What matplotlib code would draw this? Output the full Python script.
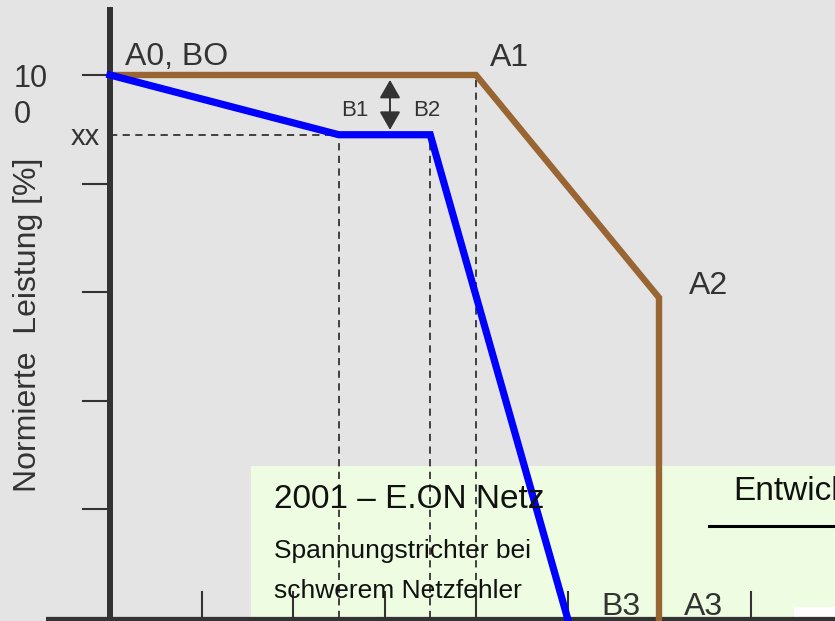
import matplotlib.pyplot as plt
from matplotlib.patches import Rectangle

plt.rcParams['font.family'] = ['Liberation Sans', 'DejaVu Sans']

# curve A (brown) and curve B (blue): x in time steps, y in percent of rated power
a_names = ['A1', 'A2', 'A3']
a_x = [0, 4, 6, 6]
a_y = [100, 100, 59, 0]
b_names = ['B1', 'B2', 'B3']
b_x = [0, 2.5, 3.5, 5]
b_y = [100, 89, 89, 0]
x_ticks = [1, 2, 3, 4, 5, 6, 7]
y_ticks = [20, 40, 60, 80, 100]

W, H = 835, 621
X0, Y0 = 110, 618        # pixel position of the origin
SX, SY = 91.5, 5.43      # pixels per x unit / per percent

bg = '#e4e4e4'
dark = '#333333'
brown = '#996633'
blue = '#0000ff'

fig = plt.figure(figsize=(W / 100, H / 100), dpi=100)
fig.patch.set_facecolor(bg)
ax = fig.add_axes([0, 0, 1, 1])
ax.set_xlim(-X0 / SX, (W - X0) / SX)
ax.set_ylim(-(H - Y0) / SY, Y0 / SY)
ax.axis('off')


def fx(px):
    return px / W


def fy(py):
    return 1 - py / H


# slide overlay boxes
ax.add_patch(Rectangle((fx(251), 0), 1, fy(466), transform=ax.transAxes,
                       facecolor='#eefde1', edgecolor='none', zorder=1))
ax.add_patch(Rectangle((fx(794), 0), 1, fy(607), transform=ax.transAxes,
                       facecolor='white', edgecolor='none', zorder=1.5))
ax.plot([fx(709), 1], [fy(526), fy(526)], transform=ax.transAxes,
        color='black', lw=2.2, zorder=2)
ax.text(fx(733), fy(492), 'Entwick', transform=ax.transAxes, fontsize=24,
        color='#111111', ha='left', va='center', zorder=5)
ax.text(fx(274), fy(500), '2001 – E.ON Netz', transform=ax.transAxes,
        fontsize=24, color='#111111', ha='left', va='center', zorder=5)
ax.text(fx(274), fy(551), 'Spannungstrichter bei', transform=ax.transAxes,
        fontsize=19, color='#111111', ha='left', va='center', zorder=5)
ax.text(fx(274), fy(591), 'schwerem Netzfehler', transform=ax.transAxes,
        fontsize=19, color='#111111', ha='left', va='center', zorder=5)

# dashed guide lines
dash = (0, (4, 3))
ax.plot([0, b_x[1]], [b_y[1], b_y[1]], ls=dash, color=dark, lw=1.3, zorder=2)
for x, y in [(b_x[1], b_y[1]), (b_x[2], b_y[2]), (a_x[1], a_y[1])]:
    ax.plot([x, x], [0, y], ls=dash, color=dark, lw=1.3, zorder=2)

# axes lines and ticks
ax.plot([0, 0], [0, (Y0 - 7) / SY], color=dark, lw=4.3,
        solid_capstyle='butt', zorder=3)
ax.plot([-(X0 - 46) / SX, 9], [-0.35, -0.35], color=dark, lw=4.5,
        solid_capstyle='butt', zorder=3)
for t in x_ticks:
    ax.plot([t, t], [0, 26 / SY], color=dark, lw=1.5, zorder=3)
for t in y_ticks:
    ax.plot([-27 / SX, 0], [t, t], color=dark, lw=1.5, zorder=3)

# curves
ax.plot(a_x, a_y, color=brown, lw=4.6, solid_joinstyle='miter', zorder=4)
ax.plot(b_x, b_y, color=blue, lw=5.2, solid_joinstyle='miter', zorder=4)

# double arrow between the curves
ax.annotate('', xy=(3.06, a_y[1] - 0.9), xytext=(3.06, b_y[1] + 0.9),
            arrowprops=dict(arrowstyle='<|-|>,head_length=0.7,head_width=0.4',
                            mutation_scale=16, color=dark, lw=1.4,
                            shrinkA=0, shrinkB=0), zorder=4)

# point labels
lab = dict(fontsize=23, color=dark, textcoords='offset pixels', zorder=5,
           ha='left', va='center')
ax.annotate('A0, BO', (a_x[0], a_y[0]), xytext=(15, 18), **lab)
ax.annotate(a_names[0], (a_x[1], a_y[1]), xytext=(14, 17), **lab)
ax.annotate(a_names[1], (a_x[2], a_y[2]), xytext=(30, 12), **lab)
ax.annotate(a_names[2], (a_x[3], a_y[3]), xytext=(25, 11), **lab)
ax.annotate(b_names[2], (b_x[3], b_y[3]), xytext=(34, 11), **lab)
small = dict(lab, fontsize=16)
ax.annotate(b_names[0], (b_x[1], b_y[1]), xytext=(2, 24), **small)
ax.annotate(b_names[1], (b_x[2], b_y[2]), xytext=(-17, 24), **small)

# y axis labels
ax.text(fx(14), fy(97), '10\n0', transform=ax.transAxes, fontsize=22,
        color=dark, ha='left', va='center', linespacing=1.25, zorder=5)
ax.annotate('xx', (0, b_y[1]), xytext=(-10, -2), textcoords='offset pixels',
            fontsize=21, color=dark, ha='right', va='center', zorder=5)
ax.text(fx(28), fy(325), 'Normierte  Leistung [%]', transform=ax.transAxes,
        fontsize=23, color=dark, rotation=90, ha='center', va='center', zorder=5)

fig.savefig('out.png', dpi=100, facecolor=bg)
